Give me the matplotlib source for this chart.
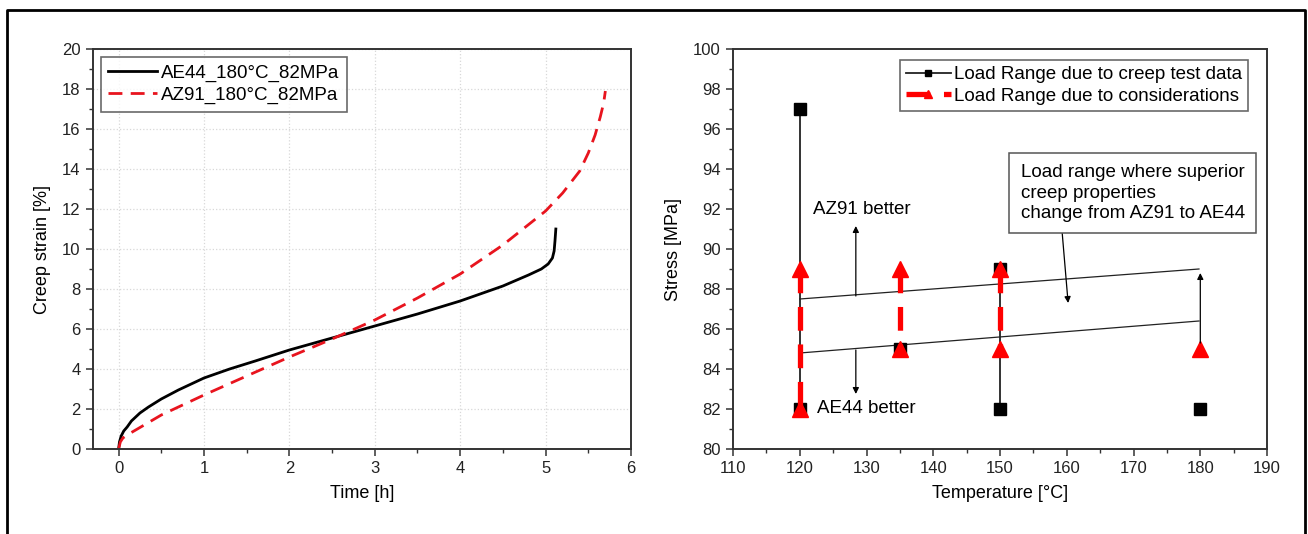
import matplotlib.pyplot as plt
from matplotlib.lines import Line2D
import numpy as np

plt.rcParams['font.family'] = ['Liberation Sans', 'DejaVu Sans']

# left chart: creep curves
ae44_t = [0, 0.01, 0.03, 0.06, 0.1, 0.15, 0.25, 0.35, 0.5, 0.7, 1.0, 1.3, 1.6, 2.0, 2.5, 3.0, 3.5,
          4.0, 4.5, 4.8, 4.95, 5.03, 5.08, 5.1, 5.11, 5.12]
ae44_e = [0, 0.35, 0.65, 0.9, 1.1, 1.4, 1.8, 2.1, 2.5, 2.95, 3.55, 4.0, 4.4, 4.95, 5.55, 6.15, 6.75,
          7.4, 8.15, 8.7, 9.0, 9.25, 9.55, 9.9, 10.4, 11.0]
az91_t = [0, 0.02, 0.05, 0.1, 0.3, 0.5, 0.75, 1.0, 1.5, 2.0, 2.5, 3.0, 3.5, 4.0, 4.5, 5.0, 5.2, 5.4,
          5.5, 5.58, 5.64, 5.68, 5.7]
az91_e = [0, 0.35, 0.55, 0.7, 1.2, 1.7, 2.2, 2.7, 3.65, 4.6, 5.5, 6.45, 7.55, 8.75, 10.2, 11.9, 12.8,
          13.9, 14.8, 15.7, 16.6, 17.3, 17.9]

# right chart: load ranges (nan = break between temperatures)
test_T = [120, 120, np.nan, 135, np.nan, 150, 150, np.nan, 180]
test_S = [97, 82, np.nan, 85, np.nan, 89, 82, np.nan, 82]
cons_T = [120, 120, np.nan, 135, 135, np.nan, 150, 150, np.nan, 180]
cons_S = [89, 82, np.nan, 89, 85, np.nan, 89, 85, np.nan, 85]
band_T = [120, 179.8]
band_upper = [87.5, 89.0]
band_lower = [84.8, 86.4]

fig = plt.figure(figsize=(13.08, 5.34), dpi=100)
ax1 = fig.add_axes([0.0711, 0.1592, 0.4113, 0.749])
ax2 = fig.add_axes([0.5604, 0.1592, 0.4083, 0.749])

spine_c = '#333333'
for ax in (ax1, ax2):
    for s in ax.spines.values():
        s.set_color(spine_c)
        s.set_linewidth(1.4)
    ax.tick_params(which='major', direction='out', length=5, width=1.1, color=spine_c,
                   labelsize=12, labelcolor='#222222', pad=4)
    ax.tick_params(which='minor', direction='out', length=3, width=1.0, color=spine_c)

# left
ax1.plot(ae44_t, ae44_e, color='black', lw=2.0, label='AE44_180°C_82MPa')
ax1.plot(az91_t, az91_e, color='#e8141e', lw=2.0, ls=(0, (5, 3)), label='AZ91_180°C_82MPa')
ax1.set_xlim(-0.3, 6)
ax1.set_ylim(0, 20)
ax1.set_xticks(range(0, 7))
ax1.set_yticks(range(0, 21, 2))
ax1.set_xticks(np.arange(0.5, 6, 1), minor=True)
ax1.set_yticks(range(1, 20, 2), minor=True)
ax1.grid(True, which='major', color='#d8d8d8', ls=':', lw=0.9)
ax1.set_axisbelow(True)
ax1.set_xlabel('Time [h]', fontsize=13, labelpad=6)
ax1.set_ylabel('Creep strain [%]', fontsize=13, labelpad=8)
leg1 = ax1.legend(loc='upper left', fontsize=13.5, frameon=True, fancybox=False,
                  edgecolor='#444444', handlelength=2.6, borderpad=0.4,
                  labelspacing=0.25, handletextpad=0.2, bbox_to_anchor=(-0.003, 1.003))
leg1.get_frame().set_linewidth(1.2)

# right
ax2.plot(band_T, band_upper, color='#222222', lw=0.9)
ax2.plot(band_T, band_lower, color='#222222', lw=0.9)
ax2.plot(test_T, test_S, color='#222222', lw=1.3, marker='s', ms=9, mfc='black',
         mec='black', label='Load Range due to creep test data')
ax2.plot(cons_T, cons_S, color='#ff0000', lw=3.8, ls=(0, (4.5, 2.6)), marker='^', ms=11,
         mfc='#ff0000', mec='#ff0000', label='Load Range due to considerations')

arrow = dict(arrowstyle='-|>', color='black', lw=0.9, mutation_scale=9, shrinkA=0, shrinkB=0)
ax2.annotate('', xy=(128.4, 91.15), xytext=(128.4, 87.65), arrowprops=arrow)
ax2.annotate('', xy=(128.4, 82.75), xytext=(128.4, 84.95), arrowprops=arrow)
ax2.annotate('', xy=(160.2, 87.3), xytext=(159.3, 90.85), arrowprops=arrow)
ax2.annotate('', xy=(180, 88.8), xytext=(180, 85.3), arrowprops=arrow)

ax2.text(122.0, 92.0, 'AZ91 better', fontsize=13.5, va='center', ha='left')
ax2.text(122.6, 82.0, 'AE44 better', fontsize=13.5, va='center', ha='left')
ax2.text(153.1, 92.8, 'Load range where superior\ncreep properties\nchange from AZ91 to AE44',
         fontsize=13.5, va='center', ha='left', linespacing=1.25,
         bbox=dict(boxstyle='square,pad=0.6', fc='white', ec='#555555', lw=1.1))

ax2.set_xlim(110, 190)
ax2.set_ylim(80, 100)
ax2.set_xticks(range(110, 191, 10))
ax2.set_yticks(range(80, 101, 2))
ax2.set_xticks(range(115, 190, 10), minor=True)
ax2.set_yticks(range(81, 100, 2), minor=True)
ax2.set_xlabel('Temperature [°C]', fontsize=13, labelpad=6)
ax2.set_ylabel('Stress [MPa]', fontsize=13, labelpad=8)
leg2 = ax2.legend(loc='upper right', fontsize=13.5, frameon=True, fancybox=False,
                  edgecolor='#444444', handlelength=2.4, borderpad=0.3,
                  labelspacing=0.25, handletextpad=0.2, markerscale=0.5,
                  bbox_to_anchor=(0.982, 0.995))
leg2.get_frame().set_linewidth(1.2)

# outer frame (top, left, right)
top = (534 - 10) / 534
fig.add_artist(Line2D([7 / 1308, 7 / 1308, 1305 / 1308, 1305 / 1308], [0, top, top, 0],
                      transform=fig.transFigure, color='black', lw=2))

fig.savefig('out.png', dpi=100)
